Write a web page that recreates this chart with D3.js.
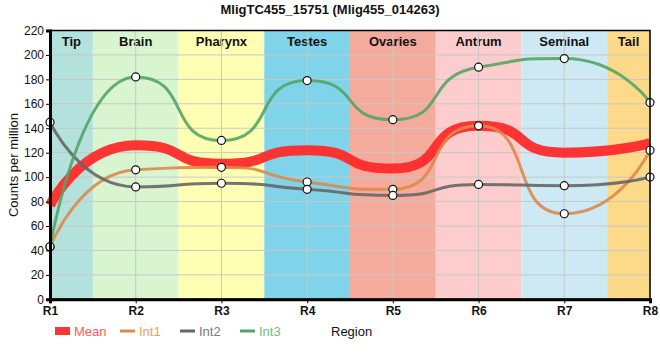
<!DOCTYPE html>
<html><head><meta charset="utf-8">
<script src="https://cdn.jsdelivr.net/npm/d3@7"></script>
<style>body{margin:0;background:#fff}svg{display:block;font-family:"Liberation Sans",Arial,sans-serif}</style>
</head><body><svg id="c" width="660" height="360"></svg>
<script>
const regions = ["R1","R2","R3","R4","R5","R6","R7","R8"];
const bandNames = ["Tip","Brain","Pharynx","Testes","Ovaries","Antrum","Seminal","Tail"];
const bandColors = ["#b3e2dd","#d8f5d0","#ffffb3","#80d4ea","#f4ab9c","#fdcccc","#cdeaf4","#fdd98a"];
const meanVals = [77, 126, 111, 122, 107, 142, 120, 128];
const int1Vals = [43, 106, 108, 96, 90, 142, 70, 122];
const int2Vals = [145, 92, 95, 90, 85, 94, 93, 100];
const int3Vals = [43, 182, 130, 179, 147, 190, 197, 161];
const yTicks = [0,20,40,60,80,100,120,140,160,180,200,220];
const seriesNames = ["Mean","Int1","Int2","Int3"];
const seriesColors = ["#ff2a2a","#dd8a4c","#666666","#55a466"];
const legendTextColors = ["#ff5a5a","#e8a06c","#7a7a7a","#76b886"];

const svg = d3.select("#c");
const L = 50, R = 650, T = 30.5, B = 299.3;
const x = d3.scalePoint().domain(regions).range([L, R]);
const y = d3.scaleLinear().domain([0, 220]).range([B, T]);
const step = x.step();

// smooth bezier curve (x-length weighted, clamped control points)
function curveSmooth(context) {
  let pts = [];
  const smooth = 0.65;
  return {
    areaStart(){}, areaEnd(){},
    lineStart(){ pts = []; },
    point(px, py){ pts.push([+px, +py]); },
    lineEnd(){
      const n = pts.length; if (!n) return;
      context.moveTo(pts[0][0], pts[0][1]);
      let cpx0 = pts[0][0], cpy0 = pts[0][1];
      for (let i = 1; i < n; i++) {
        const [xx, yy] = pts[i];
        let cpx1, cpy1, ncx = xx, ncy = yy;
        if (i === n - 1) { cpx1 = xx; cpy1 = yy; }
        else {
          const [px, py] = pts[i-1], [nx, ny] = pts[i+1];
          let vx = nx - px, vy = ny - py;
          const lp = Math.abs(xx - px), ln = Math.abs(nx - xx);
          const r = ln / (ln + lp);
          ncx = xx + vx * smooth * r; ncy = yy + vy * smooth * r;
          ncx = Math.min(ncx, Math.max(nx, xx)); ncy = Math.min(ncy, Math.max(ny, yy));
          ncx = Math.max(ncx, Math.min(nx, xx)); ncy = Math.max(ncy, Math.min(ny, yy));
          vx = ncx - xx; vy = ncy - yy;
          cpx1 = xx - vx * lp / ln; cpy1 = yy - vy * lp / ln;
          cpx1 = Math.min(cpx1, Math.max(px, xx)); cpy1 = Math.min(cpy1, Math.max(py, yy));
          cpx1 = Math.max(cpx1, Math.min(px, xx)); cpy1 = Math.max(cpy1, Math.min(py, yy));
          vx = xx - cpx1; vy = yy - cpy1;
          ncx = xx + vx * ln / lp; ncy = yy + vy * ln / lp;
        }
        context.bezierCurveTo(cpx0, cpy0, cpx1, cpy1, xx, yy);
        cpx0 = ncx; cpy0 = ncy;
      }
    }
  };
}

// bands
bandNames.forEach((name, i) => {
  const cx = x(regions[i]);
  const x0 = Math.max(L, cx - step/2), x1 = Math.min(R, cx + step/2);
  svg.append("rect").attr("x", x0).attr("y", T).attr("width", x1 - x0).attr("height", B - T).attr("fill", bandColors[i]);
  svg.append("text").attr("x", (x0 + x1)/2).attr("y", T + 15.5).attr("text-anchor","middle")
    .attr("font-size", 13).attr("font-weight","bold").attr("fill","#111").text(name);
});

// grid
svg.append("g").selectAll("line").data(yTicks).join("line")
  .attr("x1", L).attr("x2", R).attr("y1", d => y(d)).attr("y2", d => y(d))
  .attr("stroke", "#c8c8c8").attr("stroke-width", 1);
svg.append("g").selectAll("line").data(regions).join("line")
  .attr("x1", d => x(d)).attr("x2", d => x(d)).attr("y1", T).attr("y2", B)
  .attr("stroke", "#c8c8c8").attr("stroke-width", 1);

// lines
const allSeries = [meanVals, int1Vals, int2Vals, int3Vals];
const line = d3.line().x((d, i) => x(regions[i])).y(d => y(d)).curve(curveSmooth);
allSeries.forEach((vals, k) => {
  svg.append("path").attr("d", line(vals)).attr("fill","none")
    .attr("stroke", seriesColors[k]).attr("stroke-width", k === 0 ? 10 : 3)
    .attr("stroke-opacity", k === 0 ? 0.95 : 0.9);
});
[int1Vals, int2Vals, int3Vals].forEach(vals => {
  svg.append("g").selectAll("circle").data(vals).join("circle")
    .attr("cx", (d, i) => x(regions[i])).attr("cy", d => y(d)).attr("r", 4)
    .attr("fill", "#fff").attr("stroke", "#111").attr("stroke-width", 1.2);
});

// frame
svg.append("rect").attr("x", L).attr("y", T).attr("width", R - L).attr("height", B - T)
  .attr("fill","none").attr("stroke","#000").attr("stroke-width", 1.5);

// axes
const yAxis = svg.append("g").attr("transform", `translate(${L},0)`)
  .call(d3.axisLeft(y).tickValues(yTicks).tickSize(4).tickPadding(2));
yAxis.select(".domain").attr("stroke-width", 3);
yAxis.selectAll("text").attr("font-size", 12).attr("fill","#111").attr("font-family","Liberation Sans, Arial");
const xAxis = svg.append("g").attr("transform", `translate(0,${B})`)
  .call(d3.axisBottom(x).tickSize(4).tickPadding(3));
xAxis.select(".domain").attr("stroke-width", 3);
xAxis.selectAll("text").attr("font-size", 12).attr("font-weight","bold").attr("fill","#111").attr("font-family","Liberation Sans, Arial");

// title
svg.append("text").attr("x", 330).attr("y", 14).attr("text-anchor","middle")
  .attr("font-size", 13).attr("font-weight","bold").attr("fill","#111")
  .text("MligTC455_15751 (Mlig455_014263)");
// y label
svg.append("text").attr("transform","translate(18,165) rotate(-90)").attr("text-anchor","middle")
  .attr("font-size", 13).attr("fill","#111").text("Counts per million");
// x name
svg.append("text").attr("x", 331).attr("y", 336).attr("font-size", 13).attr("fill","#111").text("Region");

// legend
const legX = [55, 120, 180, 240];
seriesNames.forEach((name, k) => {
  const lx = legX[k];
  if (k === 0) svg.append("rect").attr("x", lx).attr("y", 327).attr("width", 15).attr("height", 8).attr("fill", "#ff3535");
  else svg.append("line").attr("x1", lx).attr("x2", lx + 15).attr("y1", 331).attr("y2", 331)
    .attr("stroke", seriesColors[k]).attr("stroke-width", 3);
  svg.append("text").attr("x", lx + 19).attr("y", 336).attr("font-size", 13)
    .attr("fill", legendTextColors[k]).text(name);
});
</script></body></html>
